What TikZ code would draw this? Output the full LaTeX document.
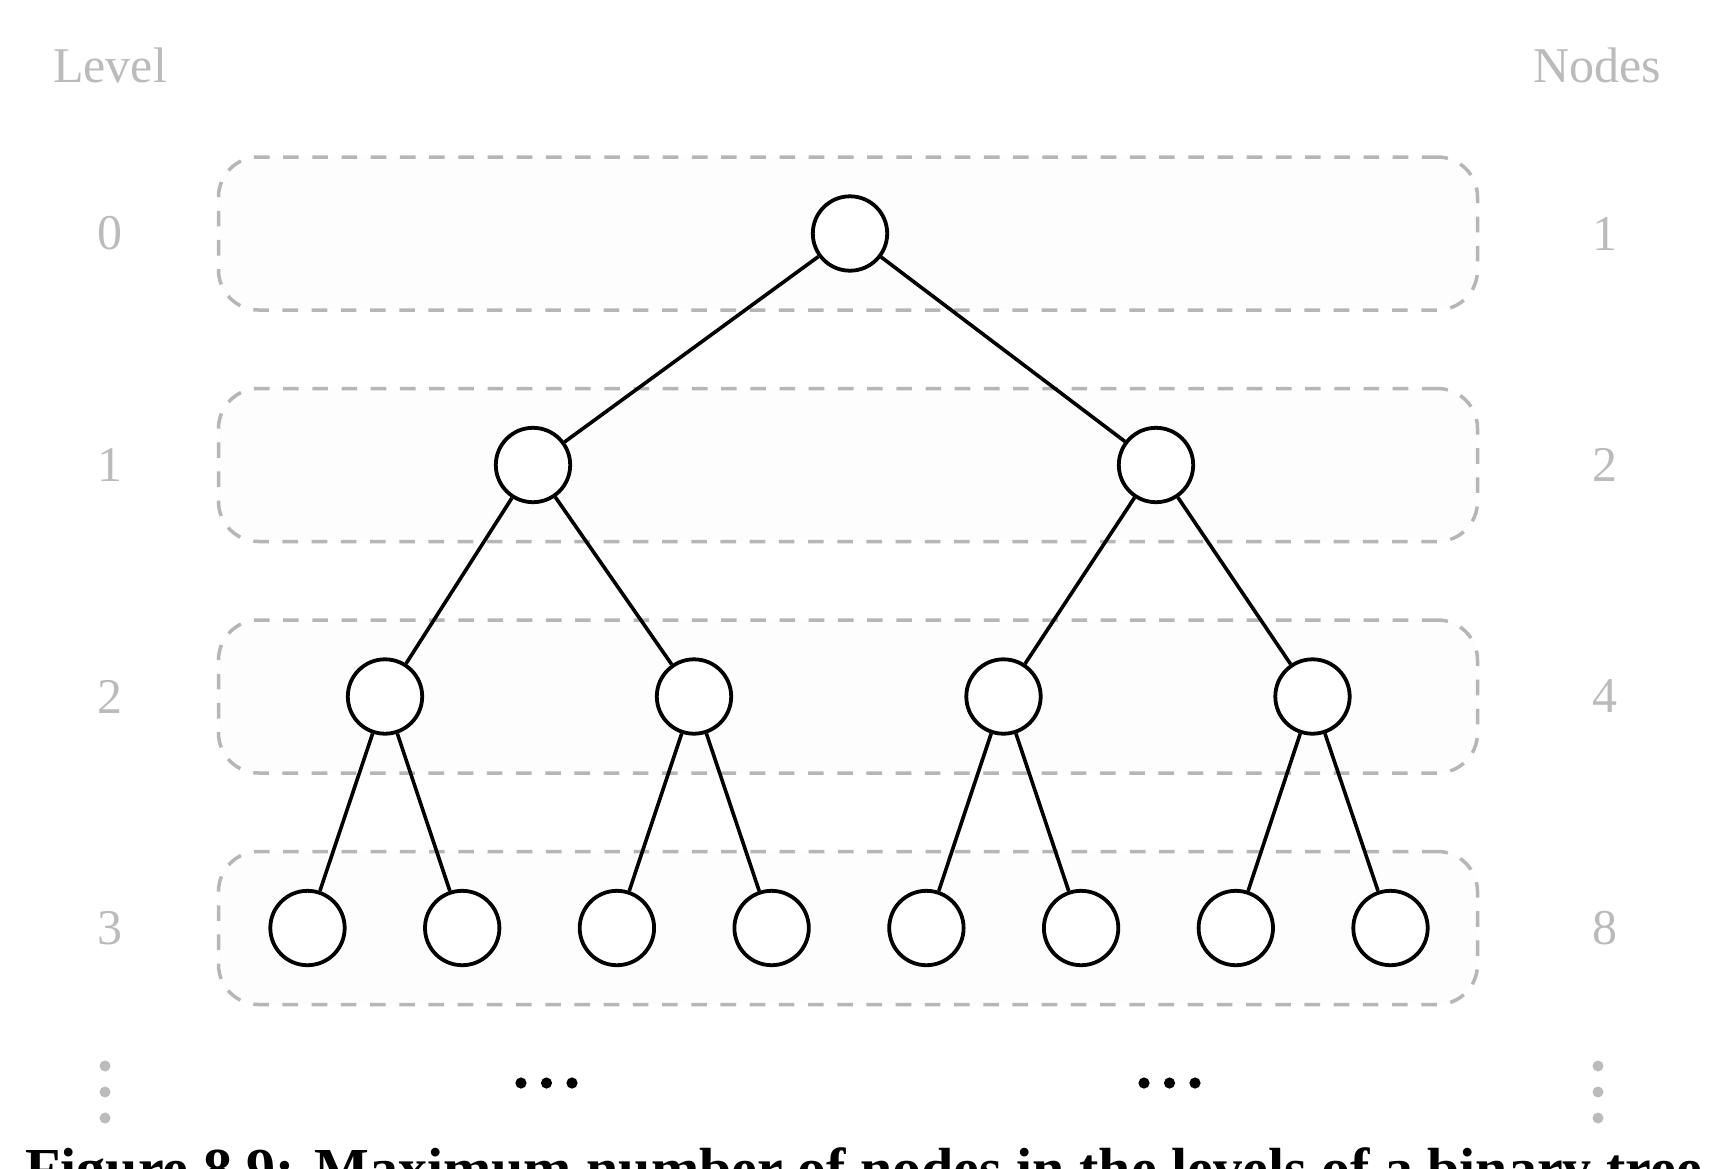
\documentclass[tikz,border=0pt]{standalone}
\usepackage{fontspec}
\setmainfont{Liberation Serif}
\definecolor{levelgray}{RGB}{187,187,187}
\definecolor{bandline}{RGB}{182,182,182}
\definecolor{bandfill}{RGB}{253,253,253}
\begin{document}
\begin{tikzpicture}[x=0.5pt,y=-0.5pt,
  treenode/.style={circle,draw=black,line width=1.9pt,fill=white,
    minimum size=37.2pt,inner sep=0pt},
  treeedge/.style={line width=1.8pt,draw=black},
  band/.style={draw=bandline,fill=bandfill,line width=1.75pt,
    dash pattern=on 7.8pt off 6.8pt,rounded corners=20pt,
    minimum width=629.5pt,minimum height=76.5pt,inner sep=0pt},
  sidelabel/.style={text=levelgray,font=\fontsize{25}{30}\selectfont,inner sep=0pt},
  graydot/.style={circle,fill=levelgray,minimum size=5.5pt,inner sep=0pt},
  blackdot/.style={circle,fill=black,minimum size=5.6pt,inner sep=0pt}
]
\useasboundingbox (0,0) rectangle (1729,1168);
\clip (0,0) rectangle (1729,1168);

% level bands
\node[band] (band0) at (848,233.5) {};
\node[band] (band1) at (848,465) {};
\node[band] (band2) at (848,696.5) {};
\node[band] (band3) at (848,928) {};

% column headers
\node[sidelabel] (levelhead) at (110,65) {Level};
\node[sidelabel] (nodeshead) at (1597,65) {Nodes};

% level numbers and node counts
\node[sidelabel] (lv0) at (110,233.5) {0};
\node[sidelabel] (lv1) at (110,465) {1};
\node[sidelabel] (lv2) at (110,696.5) {2};
\node[sidelabel] (lv3) at (110,928) {3};
\node[sidelabel] (nc0) at (1605,233.5) {1};
\node[sidelabel] (nc1) at (1605,465) {2};
\node[sidelabel] (nc2) at (1605,696.5) {4};
\node[sidelabel] (nc3) at (1605,928) {8};

% tree nodes
\node[treenode] (r) at (850,233.5) {};
\node[treenode] (a) at (533,465) {};
\node[treenode] (b) at (1156,465) {};
\node[treenode] (aa) at (385,696.5) {};
\node[treenode] (ab) at (694,696.5) {};
\node[treenode] (ba) at (1003.5,696.5) {};
\node[treenode] (bb) at (1312.5,696.5) {};
\node[treenode] (aaa) at (307.5,928) {};
\node[treenode] (aab) at (462.2,928) {};
\node[treenode] (aba) at (616.9,928) {};
\node[treenode] (abb) at (771.6,928) {};
\node[treenode] (baa) at (926.4,928) {};
\node[treenode] (bab) at (1081.1,928) {};
\node[treenode] (bba) at (1235.8,928) {};
\node[treenode] (bbb) at (1390.5,928) {};

% edges
\draw[treeedge] (r) -- (a);
\draw[treeedge] (r) -- (b);
\draw[treeedge] (a) -- (aa);
\draw[treeedge] (a) -- (ab);
\draw[treeedge] (b) -- (ba);
\draw[treeedge] (b) -- (bb);
\draw[treeedge] (aa) -- (aaa);
\draw[treeedge] (aa) -- (aab);
\draw[treeedge] (ab) -- (aba);
\draw[treeedge] (ab) -- (abb);
\draw[treeedge] (ba) -- (baa);
\draw[treeedge] (ba) -- (bab);
\draw[treeedge] (bb) -- (bba);
\draw[treeedge] (bb) -- (bbb);

% vertical continuation dots
\node[graydot] (lvd1) at (105,1066) {};
\node[graydot] (lvd2) at (105,1092) {};
\node[graydot] (lvd3) at (105,1118) {};
\node[graydot] (ncd1) at (1598,1066) {};
\node[graydot] (ncd2) at (1598,1092) {};
\node[graydot] (ncd3) at (1598,1118) {};

% horizontal continuation dots
\node[blackdot] (ld1) at (521,1083) {};
\node[blackdot] (ld2) at (546.5,1083) {};
\node[blackdot] (ld3) at (572,1083) {};
\node[blackdot] (rd1) at (1144,1083) {};
\node[blackdot] (rd2) at (1169.5,1083) {};
\node[blackdot] (rd3) at (1195,1083) {};

% caption, running past the lower edge
\node[anchor=base west,inner sep=0pt,font=\fontsize{29}{34}\selectfont\bfseries]
  (caption) at (25,1188) {Figure 8.9: Maximum number of nodes in the levels of a binary tree};
\end{tikzpicture}
\end{document}
